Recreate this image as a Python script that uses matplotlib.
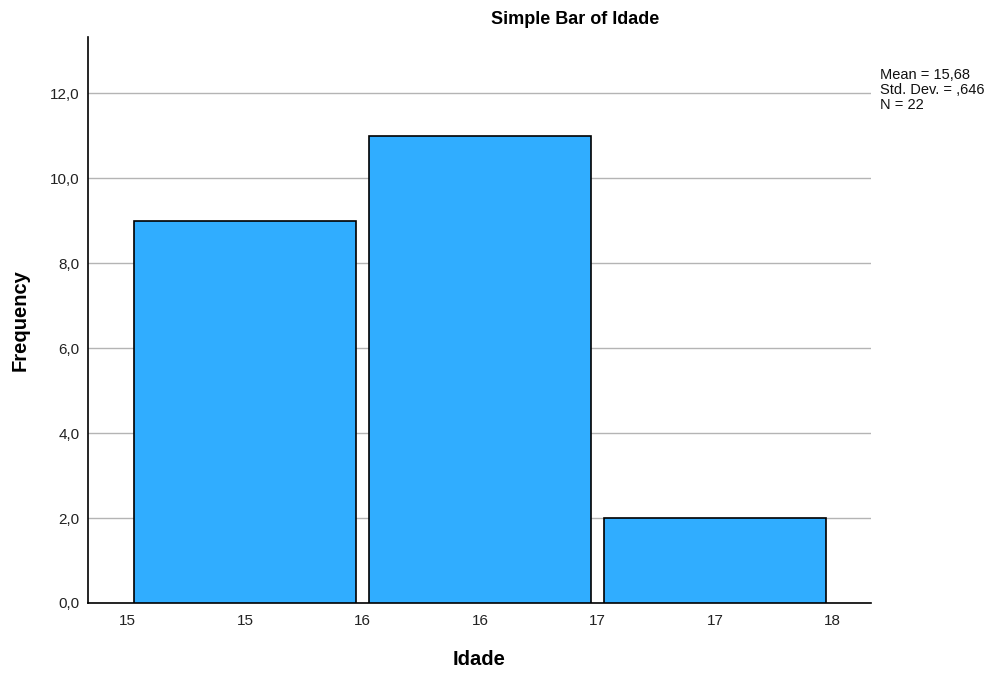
import matplotlib
matplotlib.use("Agg")
import matplotlib.pyplot as plt

plt.rcParams['font.family'] = ['Liberation Sans', 'DejaVu Sans']

categories = ["15", "16", "17"]
frequencies = [9, 11, 2]
edge_labels = ["15", "15", "16", "16", "17", "17", "18"]
y_ticks = [0, 2, 4, 6, 8, 10, 12]
stats_text = ["Mean = 15,68", "Std. Dev. = ,646", "N = 22"]
title = "Simple Bar of Idade"

fig = plt.figure(figsize=(9.92, 6.74), dpi=100)
ax = fig.add_axes([88/992, 71/674, (871-88)/992, (603-37)/674])

pos = list(range(len(categories)))
ax.bar(pos, frequencies, width=222/235, color="#30adff", edgecolor="black",
       linewidth=1.2, zorder=3)

ax.set_xlim(-0.668, 2.664)
ax.set_ylim(0, 13.32)

tick_pos = [p * 0.5 - 0.5 for p in range(len(edge_labels))]
ax.set_xticks(tick_pos)
ax.set_xticklabels(edge_labels)
ax.set_yticks(y_ticks)
ax.set_yticklabels([f"{v:.1f}".replace(".", ",") for v in y_ticks])
ax.tick_params(axis='both', length=0, labelsize=11, colors="#222222")
ax.tick_params(axis='x', pad=8)
ax.tick_params(axis='y', pad=6)

ax.yaxis.grid(True, color="#b4b4b4", linewidth=1.0, zorder=0)
ax.set_axisbelow(True)

for s in ["top", "right"]:
    ax.spines[s].set_visible(False)
for s in ["left", "bottom"]:
    ax.spines[s].set_linewidth(1.2)
    ax.spines[s].set_color("black")

ax.set_xlabel("Idade", fontsize=14.5, fontweight="bold", labelpad=16)
ax.set_ylabel("Frequency", fontsize=14.5, fontweight="bold", labelpad=15)
fig.text(575/992, 1 - 20/674, title, ha="center", va="center",
         fontsize=13, fontweight="bold")

fig.text(880/992, 1 - 68/674, "\n".join(stats_text), ha="left", va="top",
         fontsize=10.5, linespacing=1.08, color="#111111")

fig.savefig("out.png", dpi=100)
